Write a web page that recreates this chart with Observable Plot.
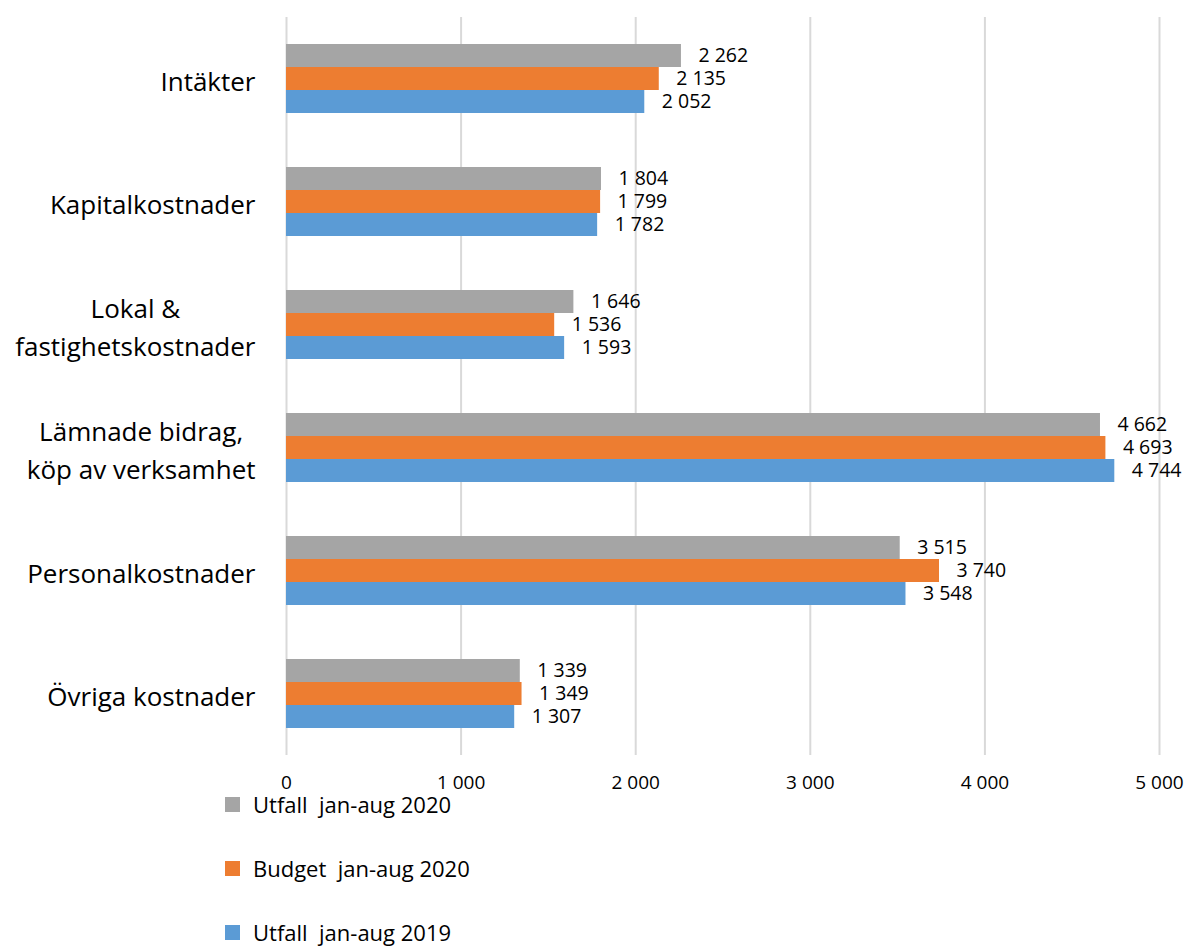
<!DOCTYPE html>
<html>
<head>
<meta charset="utf-8">
<script src="https://cdn.jsdelivr.net/npm/d3@7"></script>
<script src="https://cdn.jsdelivr.net/npm/@observablehq/plot@0.6"></script>
<style>
  html, body { margin: 0; padding: 0; background: #fff; }
  #wrap { position: relative; width: 1188px; height: 947px; font-family: "Open Sans", sans-serif; overflow: hidden; }
  #legend { position: absolute; left: 225px; top: 791px; }
  .item { display: flex; align-items: center; height: 26px; margin-bottom: 38px; font-size: 22px; line-height: 26px; color: #000; }
  .sw { width: 15px; height: 15px; margin-right: 13px; }
</style>
</head>
<body>
<div id="wrap"><div id="chart"></div><div id="legend"></div></div>
<script>
const categories = ["Intäkter", "Kapitalkostnader", "Lokal &\nfastighetskostnader", "Lämnade bidrag,\nköp av verksamhet", "Personalkostnader", "Övriga kostnader"];
const seriesNames = ["Utfall  jan-aug 2020", "Budget  jan-aug 2020", "Utfall  jan-aug 2019"];
const seriesColors = ["#a5a5a5", "#ed7d31", "#5b9bd5"];
const utfall2020 = [2262, 1804, 1646, 4662, 3515, 1339];
const budget2020 = [2135, 1799, 1536, 4693, 3740, 1349];
const utfall2019 = [2052, 1782, 1593, 4744, 3548, 1307];
const xTicks = [0, 1000, 2000, 3000, 4000, 5000];

const seriesValues = [utfall2020, budget2020, utfall2019];
const data = [];
categories.forEach((c, i) => {
  seriesNames.forEach((s, j) => data.push({category: c, series: s, value: seriesValues[j][i]}));
});
const fmt = d => d3.format(",")(d).replace(/,/g, " ");

const chart = Plot.plot({
  width: 1188,
  height: 800,
  marginTop: 16,
  marginBottom: 45,
  marginLeft: 286,
  marginRight: 29,
  style: {fontFamily: "Open Sans, sans-serif", color: "#000", background: "#fff"},
  x: {domain: [0, 5000], axis: null, label: null},
  y: {domain: seriesNames, paddingInner: 0, paddingOuter: 1.12, axis: null, label: null},
  fy: {domain: categories, padding: 0, axis: null, label: null},
  color: {domain: seriesNames, range: seriesColors},
  marks: [
    Plot.gridX(xTicks, {stroke: "#d9d9d9", strokeOpacity: 1, strokeWidth: 2}),
    Plot.barX(data, {x: "value", y: "series", fy: "category", fill: "series"}),
    Plot.text(data, {x: "value", y: "series", fy: "category", text: d => fmt(d.value), textAnchor: "start", dx: 17, fontSize: 19.5, fill: "#000"}),
    Plot.axisFy({anchor: "left", tickSize: 0, tickPadding: 31, fontSize: 26, lineHeight: 1.45, fill: "#000", label: null}),
    Plot.axisX(xTicks, {anchor: "bottom", tickSize: 0, tickPadding: 20, fontSize: 19, tickFormat: fmt, fill: "#000", label: null})
  ]
});
document.getElementById("chart").appendChild(chart);

// center the lines of wrapped category labels within their block
chart.querySelectorAll('g[aria-label="fy-axis tick label"] text').forEach(t => {
  const spans = t.querySelectorAll("tspan");
  if (spans.length > 1) {
    let w = 0;
    spans.forEach(s => { w = Math.max(w, s.getComputedTextLength()); });
    t.setAttribute("text-anchor", "middle");
    spans.forEach(s => s.setAttribute("x", -w / 2));
  }
});

const legend = d3.select("#legend");
seriesNames.forEach((s, j) => {
  const it = legend.append("div").attr("class", "item");
  it.append("div").attr("class", "sw").style("background", seriesColors[j]);
  it.append("span").style("white-space", "pre").text(s);
});
</script>
</body>
</html>
